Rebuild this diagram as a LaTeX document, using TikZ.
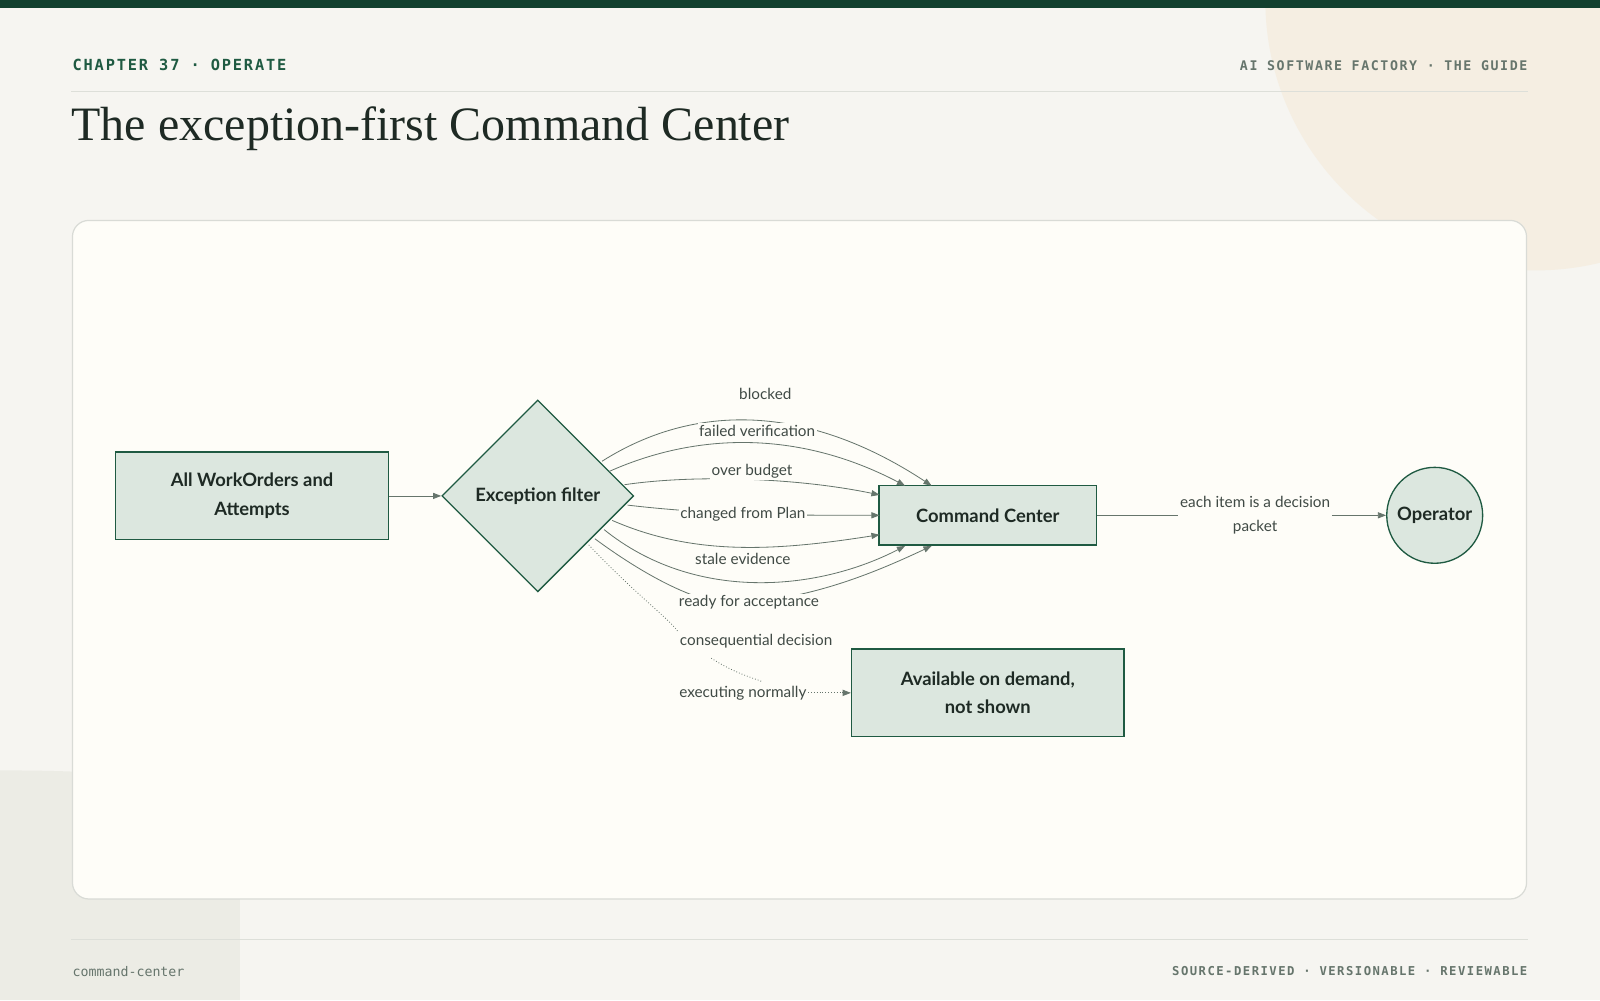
\documentclass[tikz,border=0pt]{standalone}
\usepackage{fontspec}
\setmainfont{Lato}
\newfontfamily\serifT{Liberation Serif}
\newfontfamily\monoT{DejaVu Sans Mono}
\newfontfamily\monoS[LetterSpace=12]{DejaVu Sans Mono}
\usetikzlibrary{shapes.geometric,arrows.meta}
\definecolor{bg}{HTML}{F6F5F1}
\definecolor{dg}{HTML}{12402F}
\definecolor{card}{HTML}{FEFDF8}
\definecolor{nodefill}{HTML}{DCE7DF}
\definecolor{nodeline}{HTML}{1F5A42}
\definecolor{edge}{HTML}{66756C}
\definecolor{txt}{HTML}{1E2A24}
\begin{document}
\begin{tikzpicture}[x=1pt,y=-1pt,
  box/.style={draw=nodeline,line width=1.3pt,fill=nodefill,align=center,font=\fontsize{18}{28}\selectfont\bfseries,text=txt},
  e/.style={draw=edge,line width=0.8pt,-{Triangle[length=8pt,width=6pt]}},
  lab/.style={fill=card,inner sep=1.5pt,font=\fontsize{15}{18}\selectfont,text=txt!85}]
\useasboundingbox (0,0) rectangle (1568,980);
\fill[bg] (0,0) rectangle (1568,980);
\begin{scope}
\clip (0,0) rectangle (1568,980);
\fill[color={rgb,255:red,245;green,238;blue,226}] (1505,0) circle (265);
\fill[color={rgb,255:red,236;green,236;blue,229}] (0,980) -- (0,755) .. controls (150,755) and (235,765) .. (235,840) -- (235,980) -- cycle;
\end{scope}
\fill[dg] (0,0) rectangle (1568,8);
\node[anchor=west,inner sep=0,font=\monoS\bfseries\fontsize{15}{18}\selectfont,text=nodeline] (ch) at (71,64) {CHAPTER 37 · OPERATE};
\node[anchor=east,inner sep=0,font=\monoS\bfseries\fontsize{13}{16}\selectfont,text=edge] (gd) at (1497,64) {AI SOFTWARE FACTORY · THE GUIDE};
\draw[color={rgb,255:red,221;green,223;blue,217}] (70,89) -- (1497,89);
\node[anchor=west,inner sep=0,font=\serifT\fontsize{47}{56}\selectfont,text=txt] (title) at (70,126) {The exception-first Command Center};
\draw[color={rgb,255:red,221;green,223;blue,217}] (70,920) -- (1497,920);
\node[anchor=west,inner sep=0,font=\monoT\fontsize{13}{16}\selectfont,text=edge] (f1) at (71,952) {command-center};
\node[anchor=east,inner sep=0,font=\monoS\bfseries\fontsize{12}{15}\selectfont,text=edge] (f2) at (1497,952) {SOURCE-DERIVED · VERSIONABLE · REVIEWABLE};
\draw[fill=card,draw={rgb,255:red,217;green,219;blue,214},line width=1.2pt,rounded corners=16] (71,216) rectangle (1496,881);

\node[box,minimum width=267,minimum height=86] (all) at (247,486) {All WorkOrders and\\Attempts};
\node[box,diamond,minimum width=188,minimum height=188,inner sep=0] (ex) at (527,486) {Exception filter};
\node[box,minimum width=213,minimum height=58] (cc) at (968,505) {Command Center};
\node[box,minimum width=267,minimum height=86] (av) at (968,679) {Available on demand,\\not shown};
\node[box,circle,minimum size=94,inner sep=0] (op) at (1406,505) {Operator};

\draw[e] (all) -- (ex);
\coordinate (c1) at (913,476); \coordinate (c2) at (887,476); \coordinate (c3) at (862,485);
\coordinate (c4) at (862,505); \coordinate (c5) at (862,524); \coordinate (c6) at (887,535); \coordinate (c7) at (913,535);
\draw[e] (590,452) .. controls (680,395) and (790,395) .. (c1);
\node[lab,fill=none] (l1) at (750,386) {blocked};
\draw[e] (597,462) .. controls (680,425) and (780,420) .. (c2);
\node[lab] (l2) at (742,422) {failed verification};
\draw[e] (612,475) .. controls (680,465) and (780,468) .. (c3);
\node[lab] (l3) at (737,462) {over budget};
\draw[e] (615,495) .. controls (700,505) and (780,505) .. (c4);
\node[lab] (l4) at (728,504) {changed from Plan};
\draw[e] (600,510) .. controls (680,545) and (760,540) .. (c5);
\draw[e] (592,519) .. controls (680,590) and (800,580) .. (c6);
\node[lab] (l5) at (728,548) {stale evidence};
\draw[e] (583,528) .. controls (640,570) and (700,600) .. (734,590) .. controls (800,585) and (860,560) .. (c7);
\node[lab] (l6) at (734,590) {ready for acceptance};
\node[lab] (l7) at (741,628) {consequential decision};
\node[lab] (l8) at (728,679) {executing normally};
\draw[edge,line width=0.8pt,dotted] (577,534) .. controls (620,580) and (660,610) .. (l7.north west);
\draw[edge,line width=0.8pt,dotted] (697,645) .. controls (720,660) and (740,665) .. (747,668);
\draw[e,dotted] (l8) -- (av);
\node[lab,align=center,font=\fontsize{15}{24}\selectfont] (l9) at (1230,505) {each item is a decision\\packet};
\draw[edge,line width=0.8pt] (cc) -- (l9);
\draw[e] (l9) -- (op);
\end{tikzpicture}
\end{document}
